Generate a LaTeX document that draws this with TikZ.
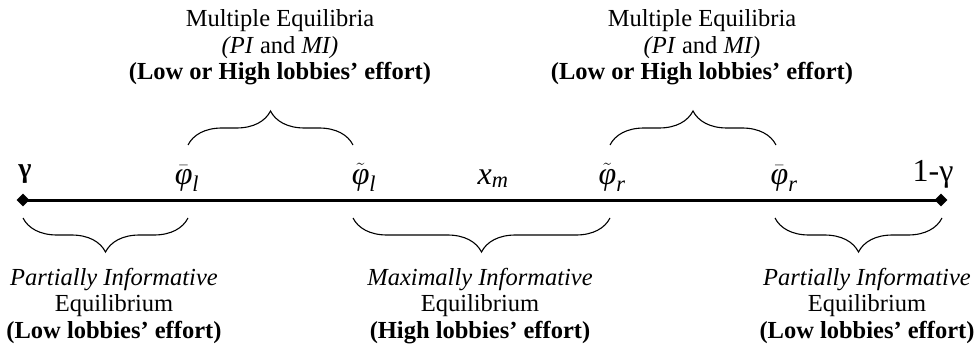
\documentclass[tikz,border=0pt]{standalone}
\usepackage{amsmath}
\usepackage{fontspec}
\setmainfont{Liberation Serif}
\usetikzlibrary{shapes.geometric, decorations.pathreplacing, positioning}

\begin{document}
\begin{tikzpicture}[x=1pt,y=-1pt,
    endpt/.style={diamond,fill=black,inner sep=0pt,minimum size=13pt},
    brc/.style={decorate,decoration={brace,amplitude=34pt},line width=1.1pt},
    eqtext/.style={align=center,anchor=base,inner sep=0pt,font=\fontsize{24.5}{26.5}\selectfont},
    ptlabel/.style={anchor=base,inner sep=0pt,font=\fontsize{32}{34}\selectfont}]
  \useasboundingbox (0,0) rectangle (977,350);
  % the interval
  \node[endpt] (lo) at (23,200) {};
  \node[endpt] (hi) at (941,200) {};
  \draw[line width=3pt] (lo.center) -- (hi.center);
  % points on the line
  \node[ptlabel,font=\fontsize{28}{30}\selectfont\bfseries] (g) at (25,177) {γ};
  \node[ptlabel] (phibl) at (187,184) {$\bar{\textit{φ}}_{\textit{l}}$};
  \node[ptlabel] (phitl) at (364,184) {$\tilde{\textit{φ}}_{\textit{l}}$};
  \node[ptlabel] (xm) at (493,184) {$\textit{x}_{\textit{m}}$};
  \node[ptlabel] (phitr) at (612,184) {$\tilde{\textit{φ}}_{\textit{r}}$};
  \node[ptlabel] (phibr) at (784,184) {$\bar{\textit{φ}}_{\textit{r}}$};
  \node[ptlabel] (omg) at (933,182) {1-γ};
  % braces above
  \draw[brc] (188,145) -- (353,145);
  \draw[brc] (610,145) -- (776,145);
  % braces below
  \draw[brc] (188,218) -- (23,218);
  \draw[brc] (610,218) -- (353,218);
  \draw[brc] (942,218) -- (775,218);
  % texts
  \node[eqtext] (multl) at (280,80) {Multiple Equilibria\\\textit{(PI} and \textit{MI)}\\\textbf{(Low or High lobbies’ effort)}};
  \node[eqtext] (multr) at (702,80) {Multiple Equilibria\\\textit{(PI} and \textit{MI)}\\\textbf{(Low or High lobbies’ effort)}};
  \node[eqtext] (pil) at (114,338) {\textit{Partially Informative}\\Equilibrium\\\textbf{(Low lobbies’ effort)}};
  \node[eqtext] (mi) at (480,338) {\textit{Maximally Informative}\\Equilibrium\\\textbf{(High lobbies’ effort)}};
  \node[eqtext] (pir) at (867,338) {\textit{Partially Informative}\\Equilibrium\\\textbf{(Low lobbies’ effort)}};
\end{tikzpicture}
\end{document}
